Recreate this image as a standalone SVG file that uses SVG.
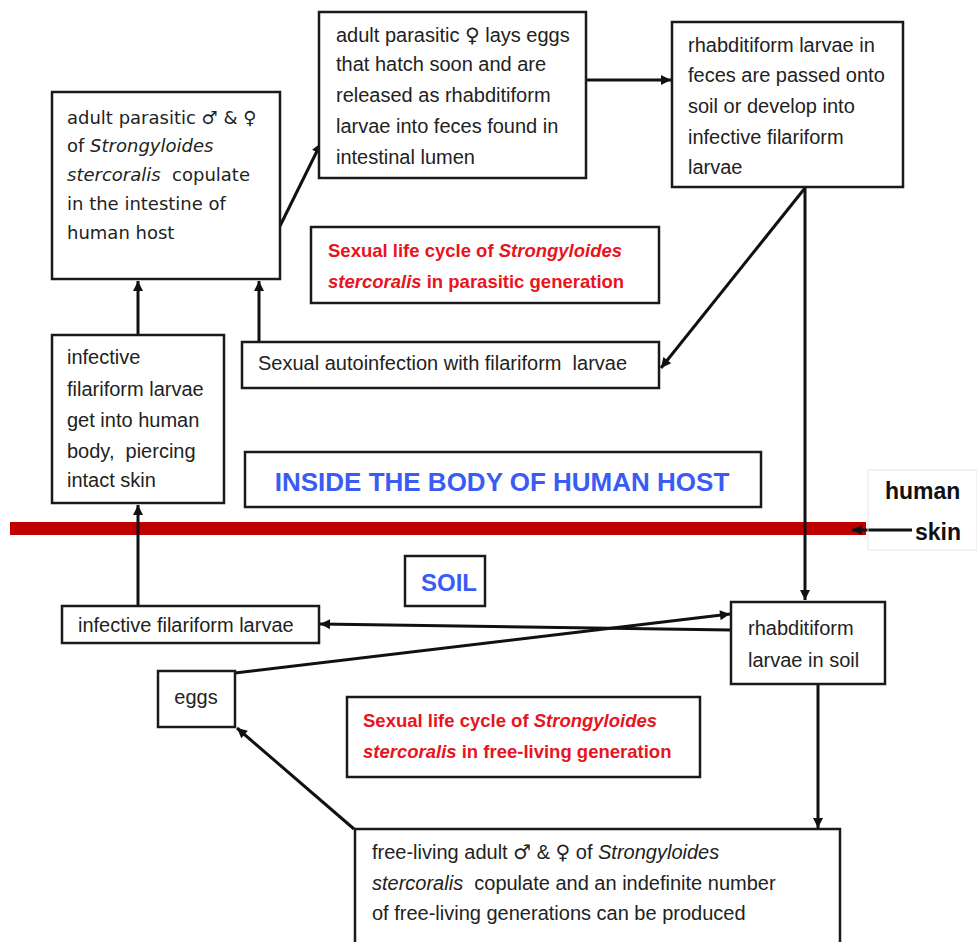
<svg xmlns="http://www.w3.org/2000/svg" width="977" height="942" viewBox="0 0 977 942">
<style>
text{white-space:pre}
.box{fill:#fff;stroke:#1a1a1a;stroke-width:2.5}
.t{font-family:"Liberation Sans",Arial,sans-serif;font-size:20px;fill:#222}
.v{font-family:"DejaVu Sans",Verdana,sans-serif;font-size:18px;fill:#222}
.sym{font-family:"DejaVu Sans",sans-serif}
.red{font-family:"Liberation Sans",Arial,sans-serif;font-size:18.5px;font-weight:bold;fill:#e8141e}
.blue{font-family:"Liberation Sans",Arial,sans-serif;font-weight:bold;fill:#3a5cf2}
.k{font-family:"Liberation Sans",Arial,sans-serif;font-weight:bold;fill:#111}
.i{font-style:italic}
.c{fill:none;stroke:#111;stroke-width:3}
</style>
<defs>
<marker id="ah" viewBox="0 0 10 10" refX="10" refY="5" markerWidth="12" markerHeight="10" markerUnits="userSpaceOnUse" orient="auto">
<path d="M0,0 L10,5 L0,10 z" fill="#111"/>
</marker>
</defs>
<rect x="0" y="0" width="977" height="942" fill="#fff"/>

<g id="skin-line">
<rect x="10" y="522" width="856" height="13" fill="#c00000"/>
</g>

<g id="connectors">
<path class="c" d="M280,226 L321,143" marker-end="url(#ah)"/>
<path class="c" d="M586,80 L671,80" marker-end="url(#ah)"/>
<path class="c" d="M805,188 L661,368" marker-end="url(#ah)"/>
<path class="c" d="M805,188 L805,600" marker-end="url(#ah)"/>
<path class="c" d="M259,341 L259,281" marker-end="url(#ah)"/>
<path class="c" d="M138,335 L138,281" marker-end="url(#ah)"/>
<path class="c" d="M138,606 L138,505" marker-end="url(#ah)"/>
<path class="c" d="M731,630 L320,624" marker-end="url(#ah)"/>
<path class="c" d="M235,673 L730,614" marker-end="url(#ah)"/>
<path class="c" d="M354,829 L237,728" marker-end="url(#ah)"/>
<path class="c" d="M818,684 L818,828" marker-end="url(#ah)"/>
<path class="c" d="M912,530 L852,530" marker-end="url(#ah)"/>
</g>

<g id="adult-parasitic">
<rect class="box" x="52" y="92" width="228" height="187"/>
<text class="v" x="67" y="124">adult parasitic ♂ &amp; ♀</text>
<text class="v" x="67" y="152">of <tspan class="i">Strongyloides</tspan></text>
<text class="v" x="67" y="181"><tspan class="i">stercoralis</tspan>  copulate</text>
<text class="v" x="67" y="210">in the intestine of</text>
<text class="v" x="67" y="239">human host</text>
</g>

<g id="lays-eggs">
<rect class="box" x="319" y="12" width="267" height="166"/>
<text class="t" x="336" y="42">adult parasitic <tspan class="sym">♀</tspan> lays eggs</text>
<text class="t" x="336" y="71">that hatch soon and are</text>
<text class="t" x="336" y="102">released as rhabditiform</text>
<text class="t" x="336" y="133">larvae into feces found in</text>
<text class="t" x="336" y="164">intestinal lumen</text>
</g>

<g id="rhabditiform-feces">
<rect class="box" x="672" y="22" width="231" height="165"/>
<text class="t" x="688" y="52">rhabditiform larvae in</text>
<text class="t" x="688" y="82">feces are passed onto</text>
<text class="t" x="688" y="113">soil or develop into</text>
<text class="t" x="688" y="144">infective filariform</text>
<text class="t" x="688" y="174">larvae</text>
</g>

<g id="label-parasitic">
<rect class="box" x="311" y="227" width="348" height="76"/>
<text class="red" x="328" y="257">Sexual life cycle of <tspan class="i">Strongyloides</tspan></text>
<text class="red" x="328" y="288"><tspan class="i">stercoralis</tspan> in parasitic generation</text>
</g>

<g id="autoinfection">
<rect class="box" x="242" y="342" width="417" height="46"/>
<text class="t" x="258" y="370">Sexual autoinfection with filariform  larvae</text>
</g>

<g id="infective-inside">
<rect class="box" x="52" y="335" width="172" height="168"/>
<text class="t" x="67" y="364">infective</text>
<text class="t" x="67" y="396">filariform larvae</text>
<text class="t" x="67" y="427">get into human</text>
<text class="t" x="67" y="458">body,  piercing</text>
<text class="t" x="67" y="487">intact skin</text>
</g>

<g id="inside-label">
<rect class="box" x="245" y="452" width="516" height="55"/>
<text class="blue" x="502" y="491" font-size="26" text-anchor="middle">INSIDE THE BODY OF HUMAN HOST</text>
</g>

<g id="human-skin">
<rect x="868" y="470" width="109" height="80" fill="none" stroke="#e6e6e6" stroke-width="1"/>
<text class="k" x="885" y="499" font-size="23">human</text>
<text class="k" x="915" y="540" font-size="23">skin</text>
</g>

<g id="soil-label">
<rect class="box" x="405" y="556" width="80" height="50"/>
<text class="blue" x="449" y="591" font-size="24" text-anchor="middle">SOIL</text>
</g>

<g id="infective-soil">
<rect class="box" x="62" y="606" width="257" height="37"/>
<text class="t" x="78" y="632">infective filariform larvae</text>
</g>

<g id="rhabditiform-soil">
<rect class="box" x="731" y="602" width="154" height="82"/>
<text class="t" x="748" y="635">rhabditiform</text>
<text class="t" x="748" y="667">larvae in soil</text>
</g>

<g id="eggs">
<rect class="box" x="158" y="671" width="77" height="56"/>
<text class="t" x="196" y="704" text-anchor="middle">eggs</text>
</g>

<g id="label-free-living">
<rect class="box" x="347" y="697" width="353" height="80"/>
<text class="red" x="363" y="727">Sexual life cycle of <tspan class="i">Strongyloides</tspan></text>
<text class="red" x="363" y="758"><tspan class="i">stercoralis</tspan> in free-living generation</text>
</g>

<g id="free-living">
<rect class="box" x="355" y="829" width="485" height="125"/>
<text class="t" x="372" y="859">free-living adult <tspan class="sym">♂</tspan> &amp; <tspan class="sym">♀</tspan> of <tspan class="i">Strongyloides</tspan></text>
<text class="t" x="372" y="890"><tspan class="i">stercoralis</tspan>  copulate and an indefinite number</text>
<text class="t" x="372" y="920">of free-living generations can be produced</text>
</g>
</svg>
